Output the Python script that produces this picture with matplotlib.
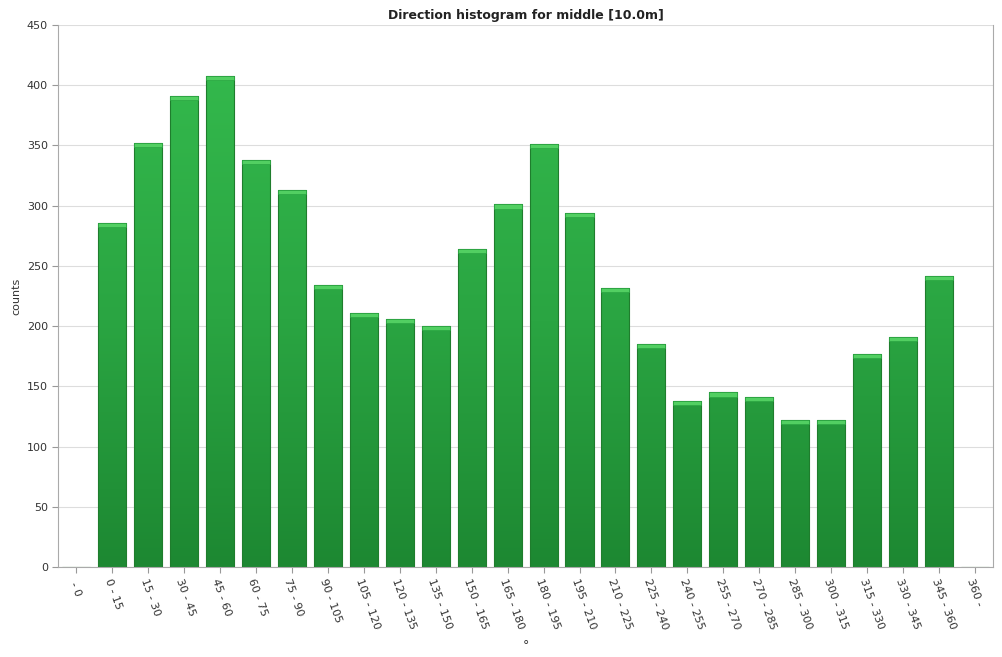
import numpy as np
import matplotlib.pyplot as plt
from matplotlib.colors import LinearSegmentedColormap

categories = [" - 0", "0 - 15", "15 - 30", "30 - 45", "45 - 60", "60 - 75", "75 - 90",
              "90 - 105", "105 - 120", "120 - 135", "135 - 150", "150 - 165",
              "165 - 180", "180 - 195", "195 - 210", "210 - 225", "225 - 240",
              "240 - 255", "255 - 270", "270 - 285", "285 - 300", "300 - 315",
              "315 - 330", "330 - 345", "345 - 360", "360 - "]
counts = [0, 286, 352, 391, 408, 338, 313, 234, 211, 206, 200, 264, 301, 351,
          294, 232, 185, 138, 145, 141, 122, 122, 177, 191, 242, 0]
yticks = [0, 50, 100, 150, 200, 250, 300, 350, 400, 450]

fig = plt.figure(figsize=(10.03, 6.57), dpi=100)
ax = fig.add_axes([0.058, 0.137, 0.932, 0.825])

x = np.arange(len(categories))
bars = ax.bar(x, counts, width=0.78, color="none", edgecolor="#1f7d2d",
              linewidth=0.8, zorder=3)

# vertical green gradient inside each bar
green = LinearSegmentedColormap.from_list("g", ["#1d8832", "#2aa542", "#33b84c"])
grad = np.linspace(0, 1, 256).reshape(-1, 1)
for b in bars:
    h = b.get_height()
    if h <= 0:
        continue
    x0, w = b.get_x(), b.get_width()
    im = ax.imshow(grad * (h / 410.0), cmap=green, vmin=0, vmax=1, aspect="auto",
                   origin="lower", extent=[x0, x0 + w, 0, h], zorder=2)
    im.set_clip_path(b)
    # lighter cap
    ax.bar(x0 + w / 2, 3.5, bottom=h - 3.5, width=w, color="#52cf62",
           edgecolor="#2aa542", linewidth=0.5, zorder=4)

ax.set_xlim(-0.5, len(categories) - 0.5)
ax.set_ylim(0, 450)
ax.set_yticks(yticks)
ax.tick_params(axis="y", labelsize=8, length=4, color="#999999", labelcolor="#333333")
ax.set_xticks(x)
ax.set_xticklabels(categories, rotation=-70, ha="left", va="top",
                   rotation_mode="anchor", fontsize=8, color="#333333")
ax.tick_params(axis="x", length=4, color="#999999")
ax.grid(axis="y", color="#dddddd", linewidth=0.8, zorder=0)

ax.spines["top"].set_visible(False)
for side in ["left", "bottom", "right"]:
    ax.spines[side].set_color("#aaaaaa")

ax.set_title("Direction histogram for middle [10.0m]", fontsize=9, fontweight="bold",
             color="#222222", pad=4)
ax.set_ylabel("counts", fontsize=8, color="#333333")
ax.set_xlabel("°", fontsize=9, color="#333333", labelpad=6)

fig.savefig("out.png", dpi=100)
